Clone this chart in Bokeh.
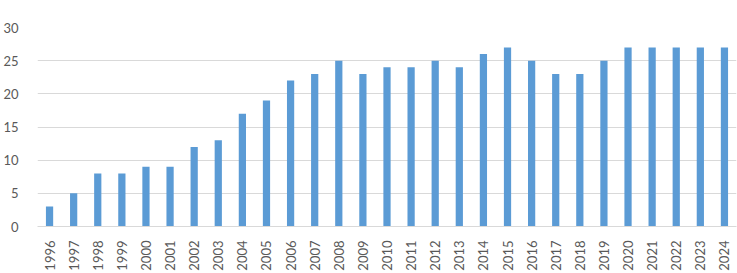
import math
from bokeh.plotting import figure
from bokeh.models import ColumnDataSource, FactorRange, Range1d, FixedTicker
from bokeh.embed import file_html
from bokeh.resources import INLINE

years = [str(y) for y in range(1996, 2025)]
values = [3, 5, 8, 8, 9, 9, 12, 13, 17, 19, 22, 23, 25, 23, 24, 24, 25, 24,
          26, 27, 25, 23, 23, 25, 27, 27, 27, 27, 27]
y_ticks = [0, 5, 10, 15, 20, 25, 30]

src = ColumnDataSource(dict(x=years, top=values))

p = figure(width=737, height=273, output_backend="svg", toolbar_location=None,
           x_range=FactorRange(*years, range_padding=0), y_range=Range1d(0, 30),
           min_border_left=34, min_border_right=1, min_border_top=27,
           min_border_bottom=44)
p.vbar(x="x", top="top", width=0.3, source=src, color="#5B9BD5", line_color=None)

p.outline_line_color = None
p.background_fill_color = "white"
p.border_fill_color = "white"
p.xgrid.grid_line_color = None
p.ygrid.grid_line_color = "#D9D9D9"
p.ygrid.grid_line_width = 1

font = "Lato"
p.yaxis.ticker = FixedTicker(ticks=y_ticks)
p.yaxis.axis_line_color = None
p.yaxis.major_tick_line_color = None
p.yaxis.minor_tick_line_color = None
p.yaxis.major_label_text_color = "#595959"
p.yaxis.major_label_text_font = font
p.yaxis.major_label_text_font_size = "13px"
p.yaxis.major_label_standoff = 13

p.xaxis.axis_line_color = "#D9D9D9"
p.xaxis.major_tick_line_color = None
p.xaxis.minor_tick_line_color = None
p.xaxis.major_label_orientation = math.pi / 2
p.xaxis.major_label_text_color = "#595959"
p.xaxis.major_label_text_font = font
p.xaxis.major_label_text_font_size = "13px"
p.xaxis.major_label_standoff = 8

open("out.html", "w").write(file_html(p, INLINE))
